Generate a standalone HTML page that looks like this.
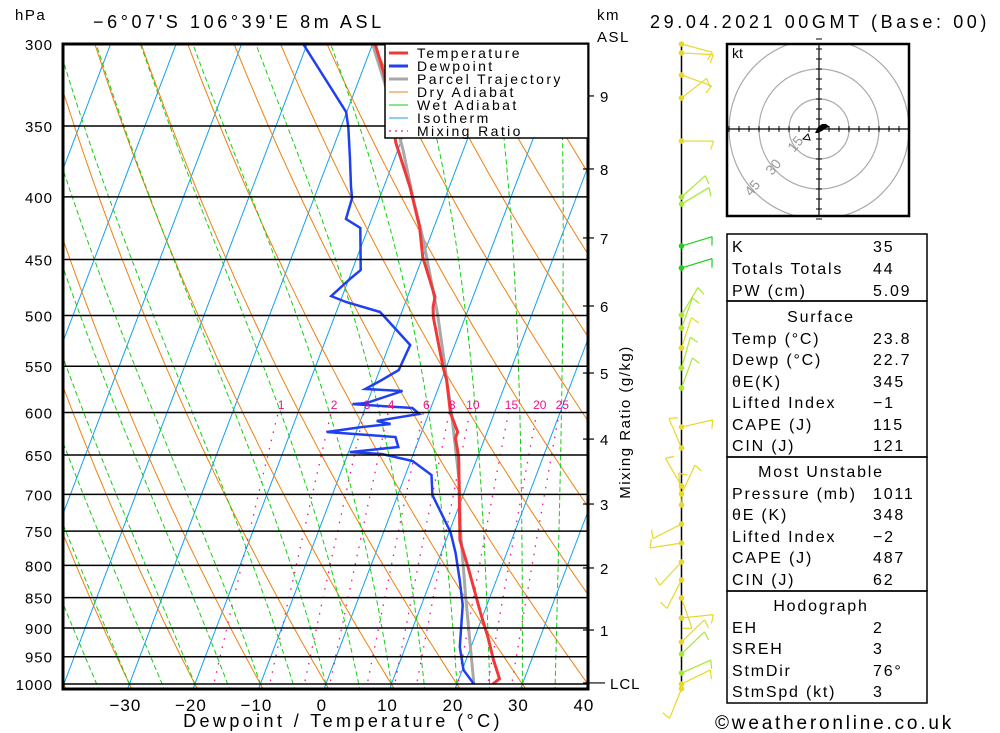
<!DOCTYPE html>
<html><head><meta charset="utf-8"><title>Skew-T</title>
<style>
html,body{margin:0;padding:0;background:#fff;}
svg{display:block;font-family:"Liberation Sans",sans-serif;}
.t{font-size:18px;letter-spacing:1.5px;fill:#000;}
.tb{font-size:16px;letter-spacing:1.8px;fill:#000;}
</style></head>
<body>
<svg id="chart" width="1000" height="733" viewBox="0 0 1000 733" xmlns="http://www.w3.org/2000/svg">
<defs><clipPath id="plotclip"><rect x="63" y="44" width="525" height="645"/></clipPath>
<clipPath id="hodoclip"><rect x="727" y="44" width="182" height="172"/></clipPath></defs>
<g id="bg" clip-path="url(#plotclip)"></g>
<g id="prof" clip-path="url(#plotclip)"></g>
<g id="axes"></g>
<g id="barbs"></g>
<g id="hodo"></g>
<g id="tbl"></g>
<text x="15" y="20" class="t" style="font-size:15px">hPa</text>
<text x="93" y="28" class="t" style="letter-spacing:3.6px">−6°07'S 106°39'E 8m ASL</text>
<text x="597" y="20" class="t" style="font-size:15px">km</text>
<text x="597" y="42" class="t" style="font-size:15px">ASL</text>
<text x="650" y="28" class="t" style="letter-spacing:3.6px">29.04.2021 00GMT (Base: 00)</text>
<text x="343" y="727" class="t" style="letter-spacing:3.4px" text-anchor="middle">Dewpoint / Temperature (°C)</text>
<text x="715" y="729" class="t" style="font-size:19px;letter-spacing:2.8px">©weatheronline.co.uk</text>
<text x="0" y="0" class="t" style="font-size:15px" text-anchor="middle" transform="translate(630,422) rotate(-90)">Mixing Ratio (g/kg)</text>
</svg>
<script>
// ---- data ----
const tempP = [300,316.8,361.4,392.6,423.3,447.8,461.6,479.3,482.9,492,501.4,533.5,551.9,564.5,600.6,622.5,629.6,652.4,762.7,802.4,875,915.4,955.8,990,1000];
const tempT = [-29.6,-26.6,-20.7,-16.0,-12.2,-10.0,-8.3,-6.2,-5.8,-5.5,-4.9,-2.0,-0.4,0.8,3.3,5.5,5.5,7.1,12.1,14.9,19.5,22.0,24.2,26.2,25.5];
const dewP = [300,340.9,350.7,371.1,392.6,400.8,417,424.1,459,465.9,482,487.4,496.7,528.5,554,564.5,574.1,576.3,589.4,590.6,595,601.7,609.7,613.2,616.7,622.5,628.4,640.3,646.4,648.8,657.4,674.9,700.8,751.3,781.6,822.3,861.9,932.8,974,1000];
const dewT = [-40.6,-30.1,-28.9,-26.9,-25.0,-24.2,-23.9,-21.2,-18.7,-19.7,-21.7,-19.1,-13.3,-6.8,-7.1,-9.1,-11.1,-5.3,-10.1,-12.2,-2.8,-1.4,-7.5,-5.2,-9.5,-14.5,-3.7,-2.7,-9.8,-4.8,0.3,4.0,5.3,10.2,12.2,14.4,16.3,18.3,20.2,22.6];
const parcelP = [300,305,321,366.2,400,433.7,497.6,551.9,564.5,593.9,681.3,748.5,849,1000];
const parcelT = [-30,-29.1,-26.2,-19.2,-15.0,-10.9,-4.5,-0.1,0.8,3.0,8.5,11.6,16.3,22.6];
const pressureTicks = [300,350,400,450,500,550,600,650,700,750,800,850,900,950,1000];
const tempTicks = [-30,-20,-10,0,10,20,30,40];
const isotherms = [-120,-110,-100,-90,-80,-70,-60,-50,-40,-30,-20,-10,0,10,20,30,40];
const dryAdiabats = [-60,-50,-40,-30,-20,-10,0,10,20,30,40,50,60,70,80,90,100,110,120,130,140,150,160,170,180];
const wetAdiabats = [-35,-30,-25,-20,-15,-10,-5,0,5,10,15,20,25,30,35];
const mixRatios = [1,2,3,4,6,8,10,15,20,25];
const kmLabels = ['9','8','7','6','5','4','3','2','1','LCL'];
const kmPressure = [330.8,379.5,432.1,491.1,557.1,630.8,712.8,803.9,903.4,998];
const barbP = [300,305.1,318,332.1,360.1,400.1,405.4,438.7,457.2,499.5,511.9,531.5,551.9,573,616.7,641.5,689,699.5,714.1,740.1,767,794.9,822.3,850.6,883.2,924,945.1,979.6,1000,1009];
const barbAng = [15,3,20,-38,0,-42,-31,-17,-17,-59,-70,-72,-74,-70,-13,-113,-120,-65,-95,153,171,133,117,71,-6,-44,-44,-24,-26,112];
const barbCol = ['y','y','y','y','y','g1','g1','g2','g2','g1','g1','y','g1','g1','y','y','y','y','y','y','y','y','y','y','y','y','g1','g1','y','y'];
const tableRows = [
 ['K','35'],['Totals Totals','44'],['PW (cm)','5.09'],
 ['#Surface'],['Temp (°C)','23.8'],['Dewp (°C)','22.7'],['θE(K)','345'],['Lifted Index','−1'],['CAPE (J)','115'],['CIN (J)','121'],
 ['#Most Unstable'],['Pressure (mb)','1011'],['θE (K)','348'],['Lifted Index','−2'],['CAPE (J)','487'],['CIN (J)','62'],
 ['#Hodograph'],['EH','2'],['SREH','3'],['StmDir','76°'],['StmSpd (kt)','3']];
const rowCenters = [246,268,290,316,338,359,381,402,424,445,471,493,514,536,557,579,605,627,648,670,691];

// ---- axis functions ----
const NS='http://www.w3.org/2000/svg';
function yP(p){return 44+Math.log(p/300)/Math.log(1000/300)*640;}
function xT(T,p){return 324+6.55*T+0.38*(689-yP(p));}
function mk(tag,attrs,parent){const e=document.createElementNS(NS,tag);for(const k in attrs)e.setAttribute(k,attrs[k]);parent.appendChild(e);return e;}
function pathFrom(ps,ts){let d='';for(let i=0;i<ps.length;i++){d+=(i?'L':'M')+xT(ts[i],ps[i]).toFixed(1)+','+yP(ps[i]).toFixed(1);}return d;}
const bg=document.getElementById('bg'),prof=document.getElementById('prof'),axes=document.getElementById('axes');

isotherms.forEach(T=>{
 const l=mk('line',{x1:xT(T,1010),y1:yP(1010),x2:xT(T,290),y2:yP(290),stroke:'#10a0f0','stroke-width':1},bg);
 
 
});
dryAdiabats.forEach(th=>{
 const ps=[],ts=[];const K=th+273.15;
 for(let p=1020;p>=290;p-=10){ps.push(p);ts.push(K*Math.pow(p/1000,0.2857)-273.15);}
 const e=mk('path',{d:pathFrom(ps,ts),fill:'none',stroke:'#f08010','stroke-width':1},bg);
 
 
});
function es(T){return 6.112*Math.exp(17.67*T/(T+243.5));}
function dTdp(T,p){const Tk=T+273.15;const e=es(T);const rs=0.622*e/(p-e);return (287*Tk+2.5e6*rs)/(p*(1005+2.5e6*2.5e6*rs*0.622/(287*Tk*Tk)));}
wetAdiabats.forEach(tw=>{
 const ps=[1000],ts=[tw];let T=tw;
 for(let p=1000;p>290;p-=2){T-=dTdp(T,p)*2;ps.push(p-2);ts.push(T);}
 const T2=tw+dTdp(tw,1000)*15;ps.unshift(1015);ts.unshift(T2);
 const e=mk('path',{d:pathFrom(ps,ts),fill:'none',stroke:'#10d010','stroke-width':1,'stroke-dasharray':'5,3'},bg);
 
 
});
function tdFromW(w,p){const e=w*p/(622+w);const l=Math.log(e/6.112);return 243.5*l/(17.67-l);}
mixRatios.forEach(w=>{
 const ps=[],ts=[];for(let p=1010;p>=600;p-=10){ps.push(p);ts.push(tdFromW(w,p));}
 const e=mk('path',{d:pathFrom(ps,ts),fill:'none',stroke:'#f0108a','stroke-width':1.3,'stroke-dasharray':'1.5,7'},bg);
 
 
 const t=mk('text',{x:xT(tdFromW(w,600),600)+3,y:409,'font-size':12,fill:'#f0108a','text-anchor':'middle'},axes);
 t.textContent=w;
 
 
});
pressureTicks.forEach(p=>{
 const y=yP(p);
 const l=mk('line',{x1:63,y1:y,x2:588,y2:y,stroke:'#000','stroke-width':1.5},axes);
 
 
 const t=mk('text',{x:53,y:y+6,'font-size':15,'text-anchor':'end','letter-spacing':1},axes);
 t.textContent=p;
 
 
});
tempTicks.forEach(T=>{
 const t=mk('text',{x:xT(T,1000)-4,y:711,'font-size':17,'text-anchor':'middle','letter-spacing':1},axes);
 t.textContent=(T<0?'−':'')+Math.abs(T);
 
 
});
kmLabels.forEach((s,i)=>{
 const y=yP(kmPressure[i]);
 const l=mk('line',{x1:583,y1:y,x2:(s==='LCL'?605:594),y2:y,stroke:'#000','stroke-width':1.2},axes);
 
 
 const t=mk('text',{x:(s==='LCL'?610:600),y:y+6,'font-size':15,'letter-spacing':1},axes);
 t.textContent=s;
 
 
});
const fr=mk('rect',{x:63,y:44,width:525,height:645,fill:'none',stroke:'#000','stroke-width':3},axes);



const parc=mk('path',{d:pathFrom(parcelP,parcelT),fill:'none',stroke:'#a8a8a8','stroke-width':3},prof);


const tl=mk('path',{d:pathFrom(tempP,tempT),fill:'none',stroke:'#f03838','stroke-width':3},prof);


const dl=mk('path',{d:pathFrom(dewP,dewT),fill:'none',stroke:'#2040f0','stroke-width':2.5},prof);



const lg=mk('g',{},axes);


mk('rect',{x:385,y:44,width:203,height:94,fill:'#fff',stroke:'#000','stroke-width':1.5},lg);
const legItems=[['Temperature','#f03838',3,''],['Dewpoint','#2040f0',3,''],['Parcel Trajectory','#a8a8a8',3,''],['Dry Adiabat','#f08010',1,''],['Wet Adiabat','#10d010',1,''],['Isotherm','#10a0f0',1,''],['Mixing Ratio','#f0108a',1.3,'2,4']];
legItems.forEach((it,i)=>{
 const y=53+i*13;
 const g=mk('g',{},lg);
 
 
 mk('line',{x1:389,y1:y,x2:408,y2:y,stroke:it[1],'stroke-width':it[2],'stroke-dasharray':it[3]||'none'},g);
 const t=mk('text',{x:417,y:y+5,'font-size':14,'letter-spacing':2.4},g);
 t.textContent=it[0];
});

const barbs=document.getElementById('barbs');
const ax=mk('line',{x1:681.5,y1:44,x2:681.5,y2:690,stroke:'#000','stroke-width':1.5},barbs);


const colMap={y:'#e8d828',g1:'#a8e830',g2:'#20d020'};
barbP.forEach((p,i)=>{
 const y=yP(p),a=barbAng[i]*Math.PI/180,c=colMap[barbCol[i]];
 const ex=681.5+Math.cos(a)*32,ey=y+Math.sin(a)*32;
 const g=mk('g',{},barbs);
 
 
 mk('line',{x1:681.5,y1:y,x2:ex,y2:ey,stroke:c,'stroke-width':1.2},g);
 const b=a+Math.PI*0.6;
 mk('line',{x1:ex,y1:ey,x2:ex+Math.cos(b)*9,y2:ey+Math.sin(b)*9,stroke:c,'stroke-width':1.2},g);
 mk('circle',{cx:681.5,cy:y,r:2.8,fill:c},g);
});

const hodo=document.getElementById('hodo');
const hc=mk('g',{'clip-path':'url(#hodoclip)'},hodo);
[30,60,90].forEach(r=>{
 const c=mk('circle',{cx:819,cy:129,r:r,fill:'none',stroke:'#aaa','stroke-width':1.2},hc);
 
 
});
mk('line',{x1:727,y1:129,x2:909,y2:129,stroke:'#000','stroke-width':1.2},hodo);
mk('line',{x1:819,y1:44,x2:819,y2:216,stroke:'#000','stroke-width':1.2},hodo);
for(let k=-9;k<=9;k++){if(!k)continue;
 mk('line',{x1:819+k*10,y1:126,x2:819+k*10,y2:132,stroke:'#000'},hodo);
 mk('line',{x1:816,y1:129+k*10,x2:822,y2:129+k*10,stroke:'#000'},hodo);}
mk('path',{d:'M815,133 L818,127 L822,124 L826,124 L830,127 L826,128 L822,131 L818,133 Z',fill:'#000'},hodo);
mk('path',{d:'M803,139 L808,134 L810,140 Z',fill:'none',stroke:'#000'},hodo);
[['15',799,147],['30',777,170],['45',756,191]].forEach(l=>{
 const t=mk('text',{x:l[1],y:l[2],'font-size':14,fill:'#999','text-anchor':'middle',transform:'rotate(-50 '+l[1]+' '+l[2]+')'},hodo);
 t.textContent=l[0];
 
 
});
const hk=mk('text',{x:732,y:58,'font-size':14},hodo);hk.textContent='kt';
mk('rect',{x:727,y:44,width:182,height:172,fill:'none',stroke:'#000','stroke-width':2.5},hodo);

const tbl=document.getElementById('tbl');
[[234,301],[301,457],[457,591],[591,703]].forEach(b=>{
 const r=mk('rect',{x:727,y:b[0],width:200,height:b[1]-b[0],fill:'none',stroke:'#000','stroke-width':1.5},tbl);
 
 
});
tableRows.forEach((row,i)=>{
 const y=rowCenters[i]+6;
 if(row[0][0]==='#'){
  const t=mk('text',{x:821,y:y,class:'tb','text-anchor':'middle'},tbl);
  t.textContent=row[0].slice(1);
  
  
 } else {
  const t=mk('text',{x:732,y:y,class:'tb'},tbl);
  t.textContent=row[0];
  
  
  const v=mk('text',{x:873,y:y,class:'tb'},tbl);
  v.textContent=row[1];
  
  
 }
});
</script>
</body></html>
